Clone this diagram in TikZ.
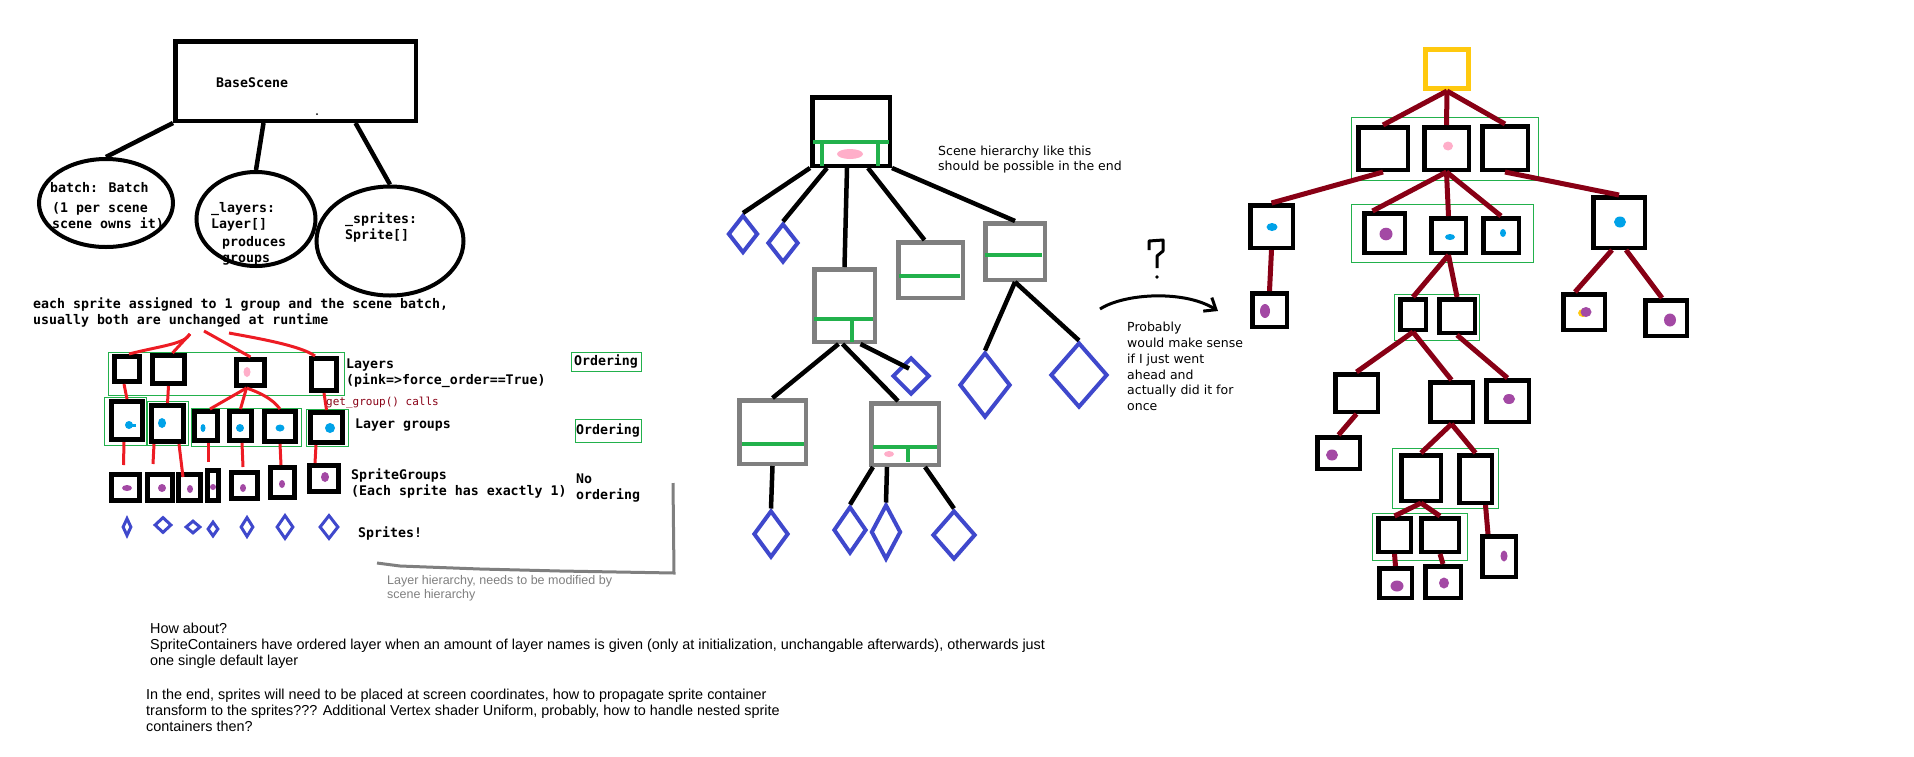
\documentclass[tikz,border=0pt]{standalone}
\usepackage{fontspec}
\usepackage{tikz}
\usepackage{xcolor}
\setmainfont{DejaVu Sans}
\newfontfamily\monofont{DejaVu Sans Mono}
\newfontfamily\arialfont{Liberation Sans}
\usetikzlibrary{shapes.geometric,arrows.meta}
\definecolor{pred}{HTML}{ED1C24}
\definecolor{pmaroon}{HTML}{880015}
\definecolor{pgreen}{HTML}{22B14C}
\definecolor{pblue}{HTML}{3F48CC}
\definecolor{pgray}{HTML}{7F7F7F}
\definecolor{pgold}{HTML}{FFC90E}
\definecolor{ppink}{HTML}{FFAEC9}
\definecolor{pcyan}{HTML}{00A2E8}
\definecolor{ppurple}{HTML}{A349A4}

\begin{document}
\begin{tikzpicture}%
  [x=1pt,y=-1pt,
   wh/.style 2 args={minimum width=#1pt,minimum height=#2pt}]
  \tikzstyle{box}=[rectangle,draw,line width=4.5pt,inner sep=0,fill=white]
  \tikzstyle{gbox}=[box,draw=pgray]
  \tikzstyle{lbox}=[box,line width=5pt]
  \tikzstyle{dia}=[diamond,draw=pblue,line width=4pt,inner sep=0]
  \tikzstyle{sdia}=[dia,line width=3pt]
  \tikzstyle{ell}=[ellipse,draw,line width=4pt,inner sep=0]
  \tikzstyle{mono}=[font=\monofont\bfseries\fontsize{13.25}{16}\selectfont,inner sep=0,anchor=west,align=left]
  \tikzstyle{sans}=[font=\fontsize{12.5}{15.8}\selectfont,inner sep=0,anchor=west,align=left]
  \tikzstyle{arial}=[font=\arialfont\fontsize{14.4}{16}\selectfont,inner sep=0,anchor=west,align=left]
  \tikzstyle{grp}=[draw=pgreen,line width=1pt]
  \tikzstyle{bar}=[draw=pgreen,line width=4pt]
  \tikzstyle{link}=[line width=4.5pt]
  \tikzstyle{rlink}=[draw=pred,line width=3pt]
  \tikzstyle{mlink}=[draw=pmaroon,line width=5pt]
  \useasboundingbox (0,0) rectangle (1914,756);

  % scene and its members
  \node[box,wh={240.5}{79.5}] (base) at (295.5,81) {};
  \node[mono] (basetxt) at (216,83) {BaseScene};
  \fill (317,114) circle (1pt);
  \node[mono] (btxt) at (50,188) {batch: Batch};
  \node[mono] (btxt2) at (52,216) {(1 per scene\\scene owns it)};
  \node[mono] (ltxt) at (211,217) {\_layers:\\Layer[]};
  \node[mono] (ltxt2) at (222,251) {produces\\groups};
  \node[mono] (stxt) at (345,227) {\_sprites:\\Sprite[]};
  \node[ell,wh={134}{88}] (batch) at (106,203) {};
  \node[ell,wh={119}{94}] (layers) at (256,219) {};
  \node[ell,wh={147}{109}] (sprites) at (390,241) {};
  \draw[link] (base.south west) -- (batch.north);
  \draw[link] ([xshift=-32pt]base.south) -- (layers.north);
  \draw[link] ([xshift=60pt]base.south) -- (sprites.north);

  % layer hierarchy
  \node[mono] (note) at (33,312) {each sprite assigned to 1 group and the scene batch,\\usually both are unchanged at runtime};
  \coordinate (n1) at (190,334);
  \coordinate (n2) at (204,331);
  \coordinate (n3) at (229,333);
  \draw[grp] (108,352) rectangle (344,395);
  \draw[grp] (104,397) rectangle (146,445);
  \draw[grp] (147,401) rectangle (188,445);
  \draw[grp] (191,408) rectangle (301,446);
  \draw[grp] (306,409) rectangle (348,446);
  \node[lbox,wh={25}{25}] (l1) at (127,369) {};
  \node[lbox,wh={32}{28}] (l2) at (168.5,369.5) {};
  \node[lbox,wh={28}{26}] (l3) at (250.5,372.5) {};
  \node[lbox,wh={25}{32}] (l4) at (324,374.5) {};
  \node[lbox,wh={31}{38}] (g1) at (127,420.5) {};
  \node[lbox,wh={32}{36}] (g2) at (167.5,423.5) {};
  \node[lbox,wh={23}{29}] (g3) at (206,426) {};
  \node[lbox,wh={22}{29}] (g4) at (240.5,426) {};
  \node[lbox,wh={31}{30}] (g5) at (280,426.5) {};
  \node[lbox,wh={32}{30}] (g6) at (326.5,427.5) {};
  \node[lbox,wh={28}{26}] (s1) at (125.5,487.5) {};
  \node[lbox,wh={25}{26}] (s2) at (160,487.5) {};
  \node[lbox,wh={22}{26}] (s3) at (189.5,487.5) {};
  \node[lbox,wh={11}{30}] (s4) at (213,485.5) {};
  \node[lbox,wh={26}{26}] (s5) at (244.5,485.5) {};
  \node[lbox,wh={24}{30}] (s6) at (282.5,482.5) {};
  \node[lbox,wh={29}{26}] (s7) at (324,478.5) {};
  \node[sdia,wh={9}{18}] (p1) at (127,527) {};
  \node[sdia,wh={17}{16}] (p2) at (163,525) {};
  \node[sdia,wh={15}{13}] (p3) at (193,527) {};
  \node[sdia,wh={11}{15}] (p4) at (213,529) {};
  \node[sdia,wh={13}{20}] (p5) at (247,527) {};
  \node[sdia,wh={17}{24}] (p6) at (285,527) {};
  \node[sdia,wh={19}{24}] (p7) at (329,527) {};
  \draw[rlink] (n1) .. controls (185,344) and (160,346) .. ([xshift=2pt]l1.north);
  \draw[rlink] (n1) -- ([xshift=4pt]l2.north);
  \draw[rlink] (n2) -- (l3.north);
  \draw[rlink] (n3) .. controls (250,337) and (300,345) .. ([xshift=-9pt]l4.north);
  \draw[rlink] ([xshift=-3pt]l1.south) -- (g1.north);
  \draw[rlink] (l2.south) -- (g2.north);
  \draw[rlink] ([xshift=-4pt]l3.south) -- ([xshift=4pt]g3.north);
  \draw[rlink] ([xshift=-4pt]l3.south) -- (g4.north);
  \draw[rlink] ([xshift=-4pt]l3.south) .. controls (258,392) and (272,398) .. (g5.north);
  \draw[rlink] (l4.south) -- (g6.north);
  \draw[rlink] ([xshift=-3pt]g1.south) -- ([xshift=-2pt,yshift=7pt]s1.north);
  \draw[rlink] ([xshift=-13.5pt]g2.south) -- ([xshift=-7pt,yshift=8pt]s2.north);
  \draw[rlink] ([xshift=11.5pt]g2.south) -- ([xshift=-6.5pt,yshift=-5pt]s3.north);
  \draw[rlink] ([xshift=2pt]g3.south) -- ([xshift=-5pt,yshift=6pt]s4.north);
  \draw[rlink] ([xshift=1.5pt]g4.south) -- ([xshift=-1.5pt,yshift=3pt]s5.north);
  \draw[rlink] (g5.south) -- ([xshift=-1.5pt]s6.north);
  \draw[rlink] ([xshift=-10.5pt]g6.south) -- ([xshift=-9pt]s7.north);
  \fill[ppink] (247,372) ellipse (3.5 and 5);
  \fill[pcyan] (129,425) ellipse (4 and 4);
  \fill[pcyan] (129,423.5) rectangle (136,426.5);
  \fill[pcyan] (162,423) ellipse (4 and 5);
  \fill[pcyan] (203,428) ellipse (2.5 and 4);
  \fill[pcyan] (240,428) ellipse (4 and 4);
  \fill[pcyan] (280,428) ellipse (4.5 and 3.5);
  \fill[pcyan] (330,428) ellipse (5 and 5);
  \fill[ppurple] (127,488) ellipse (5 and 3);
  \fill[ppurple] (162,488) ellipse (4 and 4);
  \fill[ppurple] (190,489) ellipse (3 and 4);
  \fill[ppurple] (213,487) ellipse (3 and 3);
  \fill[ppurple] (243,488) ellipse (3 and 4);
  \fill[ppurple] (282,484) ellipse (3 and 4);
  \fill[ppurple] (325,477) ellipse (4 and 5);
  \node[mono] (lay) at (346,373) {Layers\\(pink=>force\_order==True)};
  \node[font=\monofont\fontsize{11}{13}\selectfont,text=pmaroon,inner sep=0,anchor=west] (calls) at (326,403) {get\_group() calls};
  \node[mono] (lgrp) at (355,425) {Layer groups};
  \node[mono] (sgrp) at (351,483) {SpriteGroups\\(Each sprite has exactly 1)};
  \node[mono] (noord) at (576,488) {No\\ordering};
  \node[mono] (spr) at (358,533) {Sprites!};
  \node[mono,draw=pgreen,line width=1pt,anchor=center,align=center,wh={70}{19}] (ord1) at (606,361.5) {Ordering};
  \node[mono,draw=pgreen,line width=1pt,anchor=center,align=center,wh={66}{23}] (ord2) at (608,430.5) {Ordering};
  \draw[pgray,line width=3pt] (377,563) -- (400,566) -- (480,569) -- (560,571) -- (674,573) -- (673,483);
  \node[font=\arialfont\fontsize{12.5}{14}\selectfont,text=pgray,inner sep=0,anchor=west,align=left] (hnote) at (387,588) {Layer hierarchy, needs to be modified by\\scene hierarchy};

  % scene hierarchy
  \node[box,wh={77.5}{68.5}] (top) at (851,131.5) {};
  \node[gbox,wh={60.5}{72.5}] (c1) at (844.5,305.5) {};
  \node[gbox,wh={64.5}{55.5}] (c2) at (930.5,270) {};
  \node[gbox,wh={59.5}{56.5}] (c3) at (1015,251.5) {};
  \node[gbox,wh={66.5}{63.5}] (c4) at (772.5,432) {};
  \node[gbox,wh={67.5}{61.5}] (c5) at (905,434) {};
  \node[dia,wh={30}{38}] (d1) at (743,234) {};
  \node[dia,wh={31}{39}] (d2) at (783,243) {};
  \node[dia,wh={37}{37}] (d3) at (911,376) {};
  \node[dia,wh={51}{65}] (d4) at (985,385) {};
  \node[dia,wh={57}{65}] (d5) at (1079,375) {};
  \node[dia,wh={35}{47}] (d6) at (771,534) {};
  \node[dia,wh={33}{47}] (d7) at (850,530) {};
  \node[dia,wh={30}{55}] (d8) at (886,532) {};
  \node[dia,wh={43}{49}] (d9) at (954,535) {};
  \draw[bar] (813,142) -- (889,142) (822,142) -- (822,166) (878,142) -- (878,166);
  \fill[ppink] (850,154) ellipse (13 and 5);
  \draw[bar] (814,319) -- (873,319) (852,319) -- (852,342);
  \draw[bar] (899,276) -- (960,276);
  \draw[bar] (985,255) -- (1042,255);
  \draw[bar] (742,444) -- (804,444);
  \draw[bar] (873,447) -- (937,447) (908,447) -- (908,462);
  \fill[ppink] (889,454) ellipse (5 and 3);
  \draw[link] (top.south west) -- (d1.north);
  \draw[link] ([xshift=-24pt]top.south) -- (d2.north);
  \draw[link] ([xshift=-4pt]top.south) -- (c1.north);
  \draw[link] ([xshift=17pt]top.south) -- ([xshift=-6pt]c2.north);
  \draw[link] (top.south east) -- (c3.north);
  \draw[link] ([xshift=-6pt]c1.south) -- (c4.north);
  \draw[link] ([xshift=-2pt]c1.south) -- ([xshift=-7pt]c5.north);
  \draw[link] ([xshift=16pt]c1.south) -- ([xshift=-2pt,yshift=-13pt]d3.north);
  \draw[link] (c3.south) -- (d4.north);
  \draw[link] (c3.south) -- (d5.north);
  \draw[link] (c4.south) -- (d6.north);
  \draw[link] ([xshift=-32pt]c5.south) -- (d7.north);
  \draw[link] ([xshift=-18pt]c5.south) -- (d8.north);
  \draw[link] ([xshift=20pt]c5.south) -- (d9.north);
  \node[sans] (scn) at (938,159.5) {Scene hierarchy like this\\should be possible in the end};

  % question
  \draw[line width=3pt,line join=round] (1149,250) -- (1149,241) -- (1163,240) -- (1163,251) -- (1157,256) -- (1157,268);
  \fill (1157,277) circle (1.8pt);
  \coordinate (qa) at (1100,309);
  \coordinate (qb) at (1218,311);
  \draw[line width=3pt,-{Straight Barb[length=10pt,width=16pt]}] (qa) .. controls (1125,293) and (1185,290) .. (qb);
  \node[sans] (prob) at (1127,366.5) {Probably\\would make sense\\if I just went\\ahead and\\actually did it for\\once};

  % container tree
  \draw[grp] (1351,117) rectangle (1538,180);
  \draw[grp] (1351,204) rectangle (1533,262);
  \draw[grp] (1394,294) rectangle (1479,340);
  \draw[grp] (1392,448) rectangle (1498,508);
  \draw[grp] (1372,513) rectangle (1467,560);
  \node[box,draw=pgold,line width=5pt,wh={43}{39}] (root) at (1447,69) {};
  \node[box,wh={49.5}{42.5}] (r1) at (1383,148.5) {};
  \node[box,wh={44.5}{42.5}] (r2) at (1446.5,148.5) {};
  \node[box,wh={45.5}{43.5}] (r3) at (1505,148) {};
  \node[box,wh={42.5}{42.5}] (r4) at (1271.5,226.5) {};
  \node[box,wh={40.5}{39.5}] (r5) at (1384.5,233) {};
  \node[box,wh={34.5}{34.5}] (r6) at (1448.5,235.5) {};
  \node[box,wh={35.5}{34.5}] (r7) at (1501,235.5) {};
  \node[box,wh={51.5}{50.5}] (r8) at (1619,222.5) {};
  \node[box,wh={34.5}{33.5}] (r9) at (1269.5,310) {};
  \node[box,wh={41.5}{35.5}] (r10) at (1584,312) {};
  \node[box,wh={41.5}{35.5}] (r11) at (1666,318) {};
  \node[box,wh={25.5}{30.5}] (r12) at (1413,314.5) {};
  \node[box,wh={35.5}{33.5}] (r13) at (1457,316) {};
  \node[box,wh={42.5}{37.5}] (r14) at (1356.5,393) {};
  \node[box,wh={42.5}{39.5}] (r15) at (1451.5,402) {};
  \node[box,wh={42.5}{41.5}] (r16) at (1507.5,401) {};
  \node[box,wh={42.5}{31.5}] (r17) at (1338.5,453) {};
  \node[box,wh={39.5}{45.5}] (r18) at (1421,478) {};
  \node[box,wh={32.5}{47.5}] (r19) at (1475.5,479) {};
  \node[box,wh={32.5}{33.5}] (r20) at (1394.5,535) {};
  \node[box,wh={37.5}{33.5}] (r21) at (1440,535) {};
  \node[box,wh={33.5}{40.5}] (r22) at (1499,556.5) {};
  \node[box,wh={32.5}{29.5}] (r23) at (1395.5,583) {};
  \node[box,wh={35.5}{31.5}] (r24) at (1443,582) {};
  \draw[mlink] (root.south) -- (r1.north);
  \draw[mlink] (root.south) -- (r2.north);
  \draw[mlink] (root.south) -- (r3.north);
  \draw[mlink] (r1.south) -- (r4.north);
  \draw[mlink] (r2.south) -- ([xshift=-12pt]r5.north);
  \draw[mlink] (r2.south) -- (r6.north);
  \draw[mlink] (r2.south) -- (r7.north);
  \draw[mlink] (r3.south) -- (r8.north);
  \draw[mlink] (r4.south) -- (r9.north);
  \draw[mlink] ([xshift=-7pt]r8.south) -- ([xshift=-9pt]r10.north);
  \draw[mlink] ([xshift=7pt]r8.south) -- ([xshift=-4pt]r11.north);
  \draw[mlink] (r6.south) -- (r12.north);
  \draw[mlink] (r6.south) -- (r13.north);
  \draw[mlink] (r12.south) -- (r14.north);
  \draw[mlink] (r12.south) -- (r15.north);
  \draw[mlink] (r13.south) -- (r16.north);
  \draw[mlink] (r14.south) -- (r17.north);
  \draw[mlink] (r15.south) -- (r18.north);
  \draw[mlink] (r15.south) -- (r19.north);
  \draw[mlink] (r18.south) -- (r20.north);
  \draw[mlink] (r18.south) -- (r21.north);
  \draw[mlink] ([xshift=10pt]r19.south) -- ([xshift=-11pt]r22.north);
  \draw[mlink] (r20.south) -- (r23.north);
  \draw[mlink] (r21.south) -- (r24.north);
  \fill[ppink] (1448,146) ellipse (5 and 4.5);
  \fill[pcyan] (1272,227) ellipse (5.5 and 4);
  \fill[ppurple] (1386,234) ellipse (6.5 and 6.3);
  \fill[pcyan] (1450,237) ellipse (5 and 3);
  \fill[pcyan] (1503,233) ellipse (3 and 4);
  \fill[pcyan] (1620,222) ellipse (6 and 5.5);
  \fill[ppurple] (1265,311) ellipse (5 and 7);
  \fill[pgold] (1583,313) ellipse (5 and 4);
  \fill[ppurple] (1586,312) ellipse (5.5 and 5);
  \fill[ppurple] (1670,320) ellipse (6 and 6.5);
  \fill[ppurple] (1509,399) ellipse (6 and 5);
  \fill[ppurple] (1332,455) ellipse (6 and 5.5);
  \fill[ppurple] (1504,556) ellipse (3.5 and 5.5);
  \fill[ppurple] (1397,586) ellipse (6.5 and 5.5);
  \fill[ppurple] (1444,583) ellipse (5 and 5.5);

  % notes
  \node[arial] (how) at (150,646) {How about?\\SpriteContainers have ordered layer when an amount of layer names is given (only at initialization, unchangable afterwards), otherwards just\\one single default layer};
  \node[arial] (place) at (146,710) {In the end, sprites will need to be placed at screen coordinates, how to propagate sprite container\\transform to the sprites??? Additional Vertex shader Uniform, probably, how to handle nested sprite\\containers then?};
\end{tikzpicture}
\end{document}
